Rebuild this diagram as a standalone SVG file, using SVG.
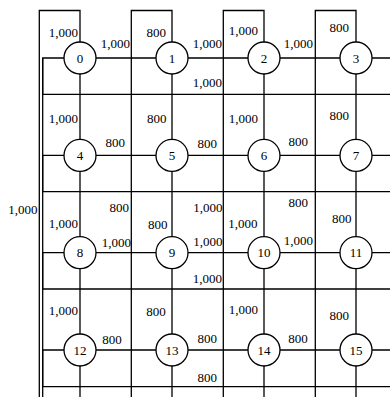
<svg xmlns="http://www.w3.org/2000/svg" width="390" height="397" viewBox="0 0 390 397" font-family="'Liberation Serif', 'DejaVu Serif', serif">
<style>
.ln{fill:none;stroke:#000;stroke-width:1.3}
.nd circle{fill:#fff;stroke:#000;stroke-width:1.3}
text{font-family:'Liberation Serif','DejaVu Serif',serif;font-size:13px;fill:#000}
.lb text{text-anchor:end}
.nd text{text-anchor:middle}
</style>
<rect width="390" height="397" fill="#fff"/>
<g id="connectors" class="ln">
<path d="M39.3 397V10.5H80V397"/>
<path d="M131.3 397V10.5H172V397"/>
<path d="M223.3 397V10.5H264V397"/>
<path d="M315.3 397V10.5H356V397"/>
<path d="M390 94.3H42.7V58H390"/>
<path d="M390 191.6H42.7V155.4H390"/>
<path d="M390 289H42.7V252.7H390"/>
<path d="M390 386.6H42.7V350H390"/>
<path d="M42.7 58V397"/>
</g>
<g id="labels" class="lb">
<text x="78" y="36.5">1,000</text>
<text x="130" y="48">1,000</text>
<text x="166" y="37">800</text>
<text x="222" y="48">1,000</text>
<text x="222" y="87">1,000</text>
<text x="258" y="35">1,000</text>
<text x="313" y="48">1,000</text>
<text x="349" y="32">800</text>
<text x="78" y="122.5">1,000</text>
<text x="166.5" y="122.5">800</text>
<text x="258" y="122.5">1,000</text>
<text x="349" y="119.5">800</text>
<text x="125" y="146.5">800</text>
<text x="217" y="147.5">800</text>
<text x="308" y="146">800</text>
<text x="37.5" y="213.5">1,000</text>
<text x="129" y="212">800</text>
<text x="222.5" y="211.5">1,000</text>
<text x="308" y="206.5">800</text>
<text x="78" y="228">1,000</text>
<text x="167.5" y="229">800</text>
<text x="257.5" y="228">1,000</text>
<text x="351.5" y="223">800</text>
<text x="131" y="246.5">1,000</text>
<text x="222.5" y="245.5">1,000</text>
<text x="313" y="245">1,000</text>
<text x="222" y="283">1,000</text>
<text x="78" y="315">1,000</text>
<text x="165.7" y="315.5">800</text>
<text x="258" y="314">1,000</text>
<text x="349" y="319.5">800</text>
<text x="121.7" y="344">800</text>
<text x="217" y="342.5">800</text>
<text x="307.7" y="342.5">800</text>
<text x="217" y="382">800</text>
</g>
<g class="nd">
<g id="n0"><circle cx="80" cy="58" r="16"/><text x="80" y="62.5">0</text></g>
<g id="n1"><circle cx="172" cy="58" r="16"/><text x="172" y="62.5">1</text></g>
<g id="n2"><circle cx="264" cy="58" r="16"/><text x="264" y="62.5">2</text></g>
<g id="n3"><circle cx="356" cy="58" r="16"/><text x="356" y="62.5">3</text></g>
<g id="n4"><circle cx="80" cy="155.4" r="16"/><text x="80" y="159.9">4</text></g>
<g id="n5"><circle cx="172" cy="155.4" r="16"/><text x="172" y="159.9">5</text></g>
<g id="n6"><circle cx="264" cy="155.4" r="16"/><text x="264" y="159.9">6</text></g>
<g id="n7"><circle cx="356" cy="155.4" r="16"/><text x="356" y="159.9">7</text></g>
<g id="n8"><circle cx="80" cy="252.7" r="16"/><text x="80" y="257.2">8</text></g>
<g id="n9"><circle cx="172" cy="252.7" r="16"/><text x="172" y="257.2">9</text></g>
<g id="n10"><circle cx="264" cy="252.7" r="16"/><text x="264" y="257.2">10</text></g>
<g id="n11"><circle cx="356" cy="252.7" r="16"/><text x="356" y="257.2">11</text></g>
<g id="n12"><circle cx="80" cy="350" r="16"/><text x="80" y="354.5">12</text></g>
<g id="n13"><circle cx="172" cy="350" r="16"/><text x="172" y="354.5">13</text></g>
<g id="n14"><circle cx="264" cy="350" r="16"/><text x="264" y="354.5">14</text></g>
<g id="n15"><circle cx="356" cy="350" r="16"/><text x="356" y="354.5">15</text></g>
</g>
</svg>
